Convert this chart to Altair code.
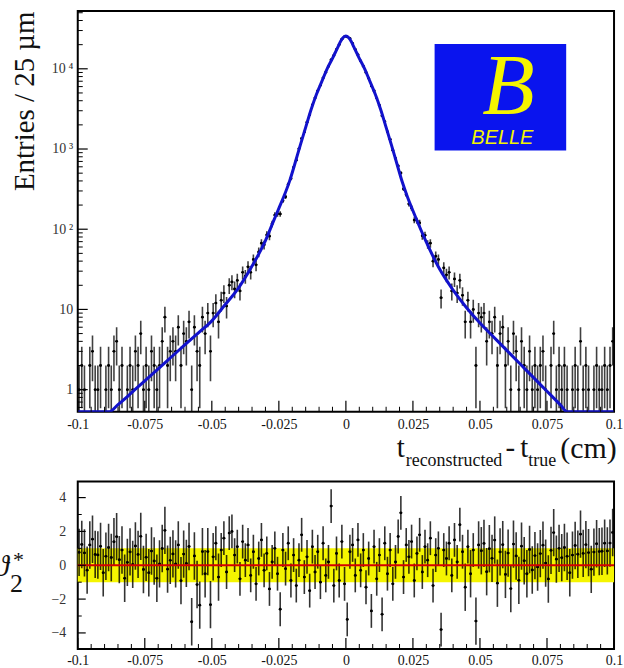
import altair as alt
import numpy as np
import pandas as pd

SERIF = "Liberation Serif"
SANS = "Liberation Sans"

# ---------------- data ----------------
BIN_W = 0.001          # bins of 10 um between -0.1 and 0.1 cm

counts = [
    1, 2, 1, 0, 2, 3, 1, 1, 2, 0,
    1, 2, 1, 3, 4, 1, 2, 0, 1, 2,
    1, 3, 2, 5, 1, 2, 1, 3, 2, 1,
    2, 4, 8, 2, 3, 4, 3, 6, 2, 5,
    4, 7, 1, 6, 3, 2, 8, 5, 9, 3,
    9, 12, 7, 13, 16, 11, 20, 22, 18, 23,
    17, 29, 26, 34, 29, 42, 36, 52, 67, 64,
    85, 82, 117, 150, 156, 155, 227, 254, 363, 428,
    589, 726, 1010, 1355, 1632, 2163, 2671, 3535, 4340, 5308,
    6230, 7703, 9063, 10720, 12990, 14654, 17492, 20100, 23400, 25200,
    24990, 23920, 20770, 17420, 14980, 12570, 10790, 8996, 7625, 6096,
    5330, 4312, 3505, 2598, 2200, 1640, 1322, 965, 765, 616,
    502, 318, 270, 207, 184, 130, 128, 120, 83, 84,
    65, 67, 40, 46, 42, 14, 33, 27, 29, 17,
    24, 16, 23, 15, 7, 13, 7, 10, 2, 9,
    8, 9, 4, 7, 5, 8, 2, 5, 6, 2,
    4, 1, 5, 3, 1, 4, 2, 1, 3, 1,
    2, 1, 2, 3, 1, 0, 2, 5, 1, 2,
    1, 2, 1, 0, 1, 2, 1, 4, 1, 2,
    1, 0, 1, 2, 1, 1, 2, 1, 2, 4,
]

pulls = [
    0.76, 1.23, 0.73, -0.29, 1.20, 1.54, 0.64, 0.61, 1.12, -0.44,
    0.53, 1.05, 0.46, 1.39, 1.69, 0.33, 0.90, -0.77, 0.17, 0.79,
    0.05, 1.14, 0.64, 1.71, -0.25, 0.47, -0.44, 0.84, 0.25, -0.77,
    0.08, 0.99, 2.06, -0.23, 0.29, 0.67, 0.08, 1.20, -0.91, 0.66,
    0.11, 1.11, -3.34, 0.55, -1.14, -2.36, 0.81, -0.50, 0.81, -2.33,
    0.5, 1.3, -0.7, 0.9, 1.6, -0.4, 1.9, 2.0, 0.6, 1.1,
    -0.8, 1.4, 0.3, 1.2, -0.6, 0.8, -1.1, 0.4, 1.5, -0.3,
    0.7, -1.4, 0.2, 1.0, -0.5, -2.6, 0.9, -0.2, 1.3, -0.9,
    0.6, -1.2, 0.3, 1.8, -0.7, 0.5, -1.5, 1.1, -0.4, 0.8,
    -1.0, 1.3, -0.6, 0.2, 3.5, -1.2, 0.7, -0.9, 1.4, -1.1,
    -3.2, 0.8, 1.2, -0.6, 1.5, -0.3, 0.9, -1.3, 0.4, -2.7,
    1.1, -0.8, 0.6, -2.9, 1.3, -0.5, 0.9, -1.1, 0.2, 1.7,
    3.1, -0.7, 1.2, 0.5, 1.4, -0.9, 0.7, 1.8, -0.4, 1.1,
    0.3, 1.6, -1.2, 0.6, 1.0, -3.8, 0.9, 0.4, 1.3, -0.6,
    1.5, 0.2, 2.4, 0.8, -1.3, 1.1, -0.5, 0.9, -3.3, 1.2,
    0.86, 1.29, -0.38, 0.98, 0.41, 1.49, -1.06, 0.79, 1.22, -0.54,
    0.72, -1.38, 1.25, 0.55, -0.89, 1.13, 0.27, -0.50, 0.93, -0.28,
    0.57, -0.10, 0.69, 1.19, 0.13, -0.81, 0.88, 1.93, 0.36, 1.00,
    0.45, 1.05, 0.53, -0.44, 0.60, 1.17, 0.65, 1.84, 0.70, 1.22,
    0.75, -0.24, 0.78, 1.27, 0.81, 0.83, 1.30, 0.85, 1.31, 1.94,
]

fit_t = [-0.1, -0.095, -0.0884, -0.085, -0.08, -0.075, -0.07, -0.065, -0.06,
         -0.055, -0.05, -0.045, -0.04, -0.035, -0.03, -0.027, -0.025, -0.023,
         -0.021, -0.019, -0.017, -0.015, -0.013, -0.011, -0.009, -0.007,
         -0.005, -0.004, -0.003, -0.002, -0.001, 0.0, 0.001, 0.002, 0.003,
         0.004, 0.005, 0.007, 0.009, 0.011, 0.013, 0.015, 0.017, 0.019, 0.021,
         0.023, 0.025, 0.027, 0.03, 0.035, 0.04, 0.045, 0.05, 0.055, 0.06,
         0.065, 0.07, 0.075, 0.08, 0.0825, 0.09, 0.1]
fit_v = [0.23, 0.33, 0.51, 0.65, 0.91, 1.29, 1.82, 2.57, 3.63,
         5.1, 7.2, 11.5, 18.6, 34.7, 72, 126, 182, 263,
         398, 660, 1120, 1860, 3090, 4790, 6920, 10000,
         13500, 15850, 18600, 21900, 24500, 25700, 24500, 21900, 18600,
         15850, 13500, 10000, 6920, 4790, 3090, 1860, 1120, 660, 390,
         251, 170, 117, 69, 31.6, 17.4, 10.5, 6.76, 4.57, 3.09,
         2.09, 1.41, 0.955, 0.646, 0.53, 0.295, 0.135]

x_major = [-0.1, -0.075, -0.05, -0.025, 0.0, 0.025, 0.05, 0.075, 0.1]
y_major_top = [1, 10, 100, 1000, 10000]
y_major_bot = [-4, -2, 0, 2, 4]
band_lo, band_hi = [-1.0], [1.0]

# ---------------- tables ----------------
centers = np.round(-0.1 + BIN_W * (np.arange(len(counts)) + 0.5), 5)
df = pd.DataFrame({"t": centers, "n": counts, "pull": pulls})
df["t0"] = df.t - BIN_W / 2
df["t1"] = df.t + BIN_W / 2
df["lo"] = np.maximum(df.n - np.sqrt(df.n), 0.01)
df["hi"] = df.n + np.sqrt(df.n)
df["perr"] = np.where(df.n >= 10, 1.0, 1.4)
df["plo"] = df.pull - df.perr
df["phi"] = df.pull + df.perr
top_df = df[df.n > 0]
fit_df = pd.DataFrame({"t": fit_t, "v": fit_v})

x_ticks_all = np.round(np.arange(-0.1, 0.10001, 0.005), 3)
xt_major = pd.DataFrame({"t": x_major})
xt_minor = pd.DataFrame({"t": [v for v in x_ticks_all if not any(abs(v - m) < 1e-9 for m in x_major)]})
yt_top_minor = pd.DataFrame({"v": [m * 10.0 ** k for k in range(-1, 5) for m in range(2, 10)
                                   if 0.55 < m * 10.0 ** k < 52000]})
yt_top_major = pd.DataFrame({"v": y_major_top})
yt_bot_major = pd.DataFrame({"v": y_major_bot})
yt_bot_minor = pd.DataFrame({"v": [-3, -1, 1, 3]})
one = pd.DataFrame({"a": [0]})

W, HT, HB = 538, 402, 168

xs = alt.Scale(domain=[-0.1, 0.1], nice=False, zero=False)
ys_top = alt.Scale(type="log", domain=[0.53, 52500], clamp=True, nice=False)
ys_bot = alt.Scale(domain=[-4.95, 4.95], nice=False, zero=False)


def make_xaxis(pad):
    return alt.Axis(values=x_major, labelExpr="toString(datum.value)", title=None,
                    ticks=False, tickSize=0, domain=False, grid=False, labelFlush=False,
                    labelPadding=pad, labelFont=SERIF, labelFontSize=14, labelColor="#111")


xaxis_top = make_xaxis(6)
xaxis_bot = make_xaxis(5)
yaxis_top = alt.Axis(values=y_major_top,
                     labelExpr="datum.value >= 100 ? '10' + '\u2009' + (datum.value < 500 ? '\u00b2' : datum.value < 5000 ? '\u00b3' : '\u2074') : toString(datum.value)",
                     ticks=False, tickSize=0, domain=False, grid=False, labelPadding=5,
                     labelFont=SERIF, labelFontSize=14, labelColor="#333",
                     title="Entries / 25 \u00b5m", titleFont=SERIF, titleFontSize=29,
                     titleFontWeight="normal", titleColor="#111", titleAngle=270,
                     titleAlign="right", titleBaseline="alphabetic", titleX=-44, titleY=0)
yaxis_bot = alt.Axis(values=y_major_bot, title=None, ticks=False, tickSize=0, domain=False,
                     grid=False, labelPadding=12, labelFont=SERIF, labelFontSize=14,
                     labelColor="#333")


def XT(f):
    return alt.X(f, type="quantitative", scale=xs, axis=xaxis_top)


def XB(f):
    return alt.X(f, type="quantitative", scale=xs, axis=xaxis_bot)


def YT(f):
    return alt.Y(f, type="quantitative", scale=ys_top, axis=yaxis_top)


def YB(f):
    return alt.Y(f, type="quantitative", scale=ys_bot, axis=yaxis_bot)


def txt(s, x, y, size, align="left", style="normal", font=SERIF, color="#111",
        baseline="alphabetic", weight="normal"):
    return alt.Chart(one).mark_text(text=s, align=align, baseline=baseline, fontSize=size,
                                    font=font, fontStyle=style, color=color,
                                    fontWeight=weight).encode(x=alt.value(x), y=alt.value(y))


def xtick_layers(H, X):
    big = alt.Chart(xt_major).mark_rule(color="black", strokeWidth=1.2).encode(
        x=X("t"), y=alt.value(H), y2=alt.value(H - 11))
    small = alt.Chart(xt_minor).mark_rule(color="black", strokeWidth=1).encode(
        x=X("t"), y=alt.value(H), y2=alt.value(H - 5))
    return [big, small]


# ---------------- top panel ----------------
t_err = alt.Chart(top_df).mark_rule(color="black", strokeWidth=1.6, opacity=0.75, clip=True).encode(
    x=XT("t"), y=YT("lo"), y2=alt.Y2("hi"))
t_xerr = alt.Chart(top_df).mark_rule(color="black", strokeWidth=1.4, clip=True).encode(
    x=XT("t0"), x2=alt.X2("t1"), y=YT("n"))
t_pts = alt.Chart(top_df).mark_circle(color="black", size=8, opacity=1, clip=True).encode(
    x=XT("t"), y=YT("n"))
t_fit = alt.Chart(fit_df).mark_line(color="#1212cc", strokeWidth=3, interpolate="monotone",
                                    clip=True).encode(x=XT("t"), y=YT("v"))
t_ymaj = alt.Chart(yt_top_major).mark_rule(color="black", strokeWidth=1.2).encode(
    y=YT("v"), x=alt.value(0), x2=alt.value(10))
t_ymin = alt.Chart(yt_top_minor).mark_rule(color="black", strokeWidth=1).encode(
    y=YT("v"), x=alt.value(0), x2=alt.value(5))

logo_box = alt.Chart(one).mark_rect(color="#0a14ee").encode(
    x=alt.value(358), x2=alt.value(490), y=alt.value(33), y2=alt.value(140))
logo_b = txt("B", 432, 103, 86, align="center", style="italic", color="#f4f400")
logo_txt = txt("BELLE", 426, 133, 20, align="center", style="italic", font=SANS, color="#f4f400")

title_parts = [
    txt("t", 320, 447, 29),
    txt("reconstructed", 329, 456, 18),
    txt("-", 434, 447, 29, align="center"),
    txt("t", 444, 447, 29),
    txt("true", 452, 456, 18),
    txt("(cm)", 484, 448, 30),
]

top = alt.layer(t_err, t_xerr, t_pts, t_fit, t_ymaj, t_ymin,
                *xtick_layers(HT, XT), logo_box, logo_b, logo_txt,
                *title_parts).properties(width=W, height=HT)

# ---------------- bottom panel ----------------
band_df = pd.DataFrame({"x0": [-0.1], "x1": [0.1], "lo": band_lo, "hi": band_hi})
b_band = alt.Chart(band_df).mark_rect(color="#f5f500").encode(
    x=XB("x0"), x2=alt.X2("x1"), y=YB("lo"), y2=alt.Y2("hi"))
zero_df = pd.DataFrame({"x0": [-0.1], "x1": [0.1], "y": [0.0]})
b_zero = alt.Chart(zero_df).mark_rule(color="#d40000", strokeWidth=2).encode(
    x=XB("x0"), x2=alt.X2("x1"), y=YB("y"))
b_err = alt.Chart(df).mark_rule(color="black", strokeWidth=1.6, opacity=0.8, clip=True).encode(
    x=XB("t"), y=YB("plo"), y2=alt.Y2("phi"))
b_xerr = alt.Chart(df).mark_rule(color="black", strokeWidth=1.4, clip=True).encode(
    x=XB("t0"), x2=alt.X2("t1"), y=YB("pull"))
b_pts = alt.Chart(df).mark_circle(color="black", size=8, opacity=1, clip=True).encode(
    x=XB("t"), y=YB("pull"))
b_ymaj = alt.Chart(yt_bot_major).mark_rule(color="black", strokeWidth=1.2).encode(
    y=YB("v"), x=alt.value(0), x2=alt.value(8))
b_ymin = alt.Chart(yt_bot_minor).mark_rule(color="black", strokeWidth=1).encode(
    y=YB("v"), x=alt.value(0), x2=alt.value(4))

theta_parts = [
    txt("\u03d1", -69, 95, 30, align="right", style="italic"),
    txt("2", -68, 111, 26),
    txt("*", -65, 86, 22),
]

bottom = alt.layer(b_band, b_err, b_xerr, b_pts, b_zero, b_ymaj, b_ymin,
                   *xtick_layers(HB, XB), *theta_parts).properties(width=W, height=HB)

chart = alt.vconcat(top, bottom, spacing=10).properties(
    padding={"left": -7, "top": 9, "right": 0, "bottom": 0},
    background="white",
).configure_view(stroke="black", strokeWidth=2)

chart.save("out.html", embed_options={"renderer": "svg", "actions": False})
